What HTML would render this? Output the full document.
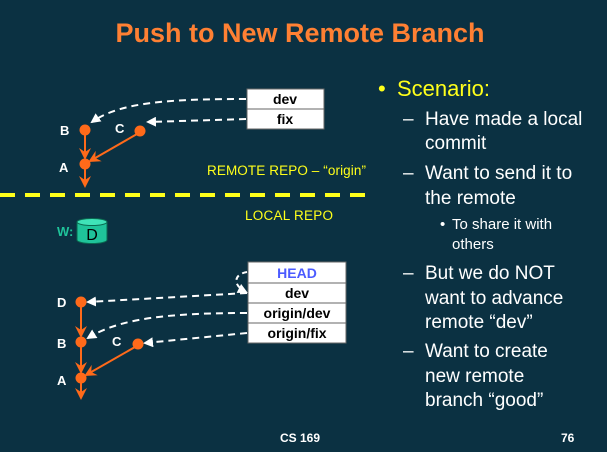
<!DOCTYPE html>
<html><head><meta charset="utf-8"><style>
html,body{margin:0;padding:0;background:#0b3142;}
svg{display:block;font-family:"Liberation Sans",Arial,sans-serif;}
</style></head><body>
<svg width="607" height="452" viewBox="0 0 607 452" xmlns="http://www.w3.org/2000/svg">
<defs>
<marker id="wa" markerWidth="10" markerHeight="10" refX="8" refY="5" orient="auto" markerUnits="userSpaceOnUse"><path d="M0,0 L10,5 L0,10 z" fill="#fff"/></marker>
<marker id="oa" markerWidth="12" markerHeight="12" refX="10" refY="6" orient="auto" markerUnits="userSpaceOnUse"><path d="M0,0 L12,6 L0,12 L4,6 z" fill="#ff6a1a"/></marker>
</defs>
<rect width="607" height="452" fill="#0b3142"/>
<text x="300" y="42" text-anchor="middle" font-size="27" font-weight="bold" fill="#ff8033">Push to New Remote Branch</text>

<!-- top diagram -->
<rect x="247" y="89" width="77" height="20" fill="#fff" stroke="#666"/>
<rect x="247" y="109" width="77" height="20" fill="#fff" stroke="#666"/>
<text x="285" y="104" text-anchor="middle" font-size="14" font-weight="bold" fill="#000">dev</text>
<text x="285" y="124" text-anchor="middle" font-size="14" font-weight="bold" fill="#000">fix</text>
<path d="M246,99 C170,99 120,102 92,122" stroke="#fff" stroke-width="2" stroke-dasharray="7,5" fill="none" marker-end="url(#wa)"/>
<path d="M246,119 L148,122" stroke="#fff" stroke-width="2" stroke-dasharray="7,5" fill="none" marker-end="url(#wa)"/>
<line x1="85" y1="134" x2="85" y2="158" stroke="#ff6a1a" stroke-width="2" marker-end="url(#oa)"/>
<line x1="137" y1="134" x2="90" y2="161" stroke="#ff6a1a" stroke-width="2" marker-end="url(#oa)"/>
<line x1="85" y1="168" x2="85" y2="186" stroke="#ff6a1a" stroke-width="2" marker-end="url(#oa)"/>
<circle cx="85" cy="130" r="5.5" fill="#ff6a1a"/>
<circle cx="140" cy="131" r="5.5" fill="#ff6a1a"/>
<circle cx="85" cy="164" r="5.5" fill="#ff6a1a"/>
<g font-size="13" font-weight="bold" fill="#fff">
<text x="60" y="135">B</text><text x="115" y="133">C</text><text x="59" y="172">A</text>
</g>
<text x="207" y="175" font-size="13.5" fill="#ffff1a" textLength="159">REMOTE REPO – “origin”</text>
<line x1="0" y1="195" x2="370" y2="195" stroke="#ffff1a" stroke-width="4" stroke-dasharray="15,10"/>
<text x="245" y="220" font-size="13.5" fill="#ffff1a" textLength="88">LOCAL REPO</text>
<text x="57" y="236" font-size="13" font-weight="bold" fill="#1fc39a">W:</text>
<path d="M77,222 L77,240 A15,3.5 0 0 0 107,240 L107,222" fill="#1fc39a" stroke="#0a6a50" stroke-width="1"/>
<ellipse cx="92" cy="222" rx="15" ry="3.5" fill="#3fe3b8" stroke="#0a6a50" stroke-width="1"/>
<text x="92" y="240" text-anchor="middle" font-size="16" fill="#000">D</text>

<!-- bottom diagram -->
<rect x="248" y="262" width="98" height="21" fill="#fff" stroke="#666"/>
<rect x="248" y="283" width="98" height="20" fill="#fff" stroke="#666"/>
<rect x="248" y="303" width="98" height="20" fill="#fff" stroke="#666"/>
<rect x="248" y="323" width="98" height="20" fill="#fff" stroke="#666"/>
<text x="297" y="278" text-anchor="middle" font-size="14" font-weight="bold" fill="#4b5bff">HEAD</text>
<text x="297" y="298" text-anchor="middle" font-size="14" font-weight="bold" fill="#000">dev</text>
<text x="297" y="318" text-anchor="middle" font-size="14" font-weight="bold" fill="#000">origin/dev</text>
<text x="297" y="338" text-anchor="middle" font-size="14" font-weight="bold" fill="#000">origin/fix</text>
<path d="M247,272 C234,274 232,285 246,292" stroke="#fff" stroke-width="2" stroke-dasharray="5,4" fill="none" marker-end="url(#wa)"/>
<path d="M247,293 L88,302" stroke="#fff" stroke-width="2" stroke-dasharray="7,5" fill="none" marker-end="url(#wa)"/>
<path d="M247,313 C170,313 120,318 88,338" stroke="#fff" stroke-width="2" stroke-dasharray="7,5" fill="none" marker-end="url(#wa)"/>
<path d="M247,333 L145,343" stroke="#fff" stroke-width="2" stroke-dasharray="7,5" fill="none" marker-end="url(#wa)"/>
<line x1="81" y1="306" x2="81" y2="336" stroke="#ff6a1a" stroke-width="2" marker-end="url(#oa)"/>
<line x1="81" y1="346" x2="81" y2="372" stroke="#ff6a1a" stroke-width="2" marker-end="url(#oa)"/>
<line x1="135" y1="347" x2="86" y2="375" stroke="#ff6a1a" stroke-width="2" marker-end="url(#oa)"/>
<line x1="81" y1="382" x2="81" y2="398" stroke="#ff6a1a" stroke-width="2" marker-end="url(#oa)"/>
<circle cx="81" cy="302" r="5.5" fill="#ff6a1a"/>
<circle cx="81" cy="342" r="5.5" fill="#ff6a1a"/>
<circle cx="138" cy="344" r="5.5" fill="#ff6a1a"/>
<circle cx="81" cy="378" r="5.5" fill="#ff6a1a"/>
<g font-size="13" font-weight="bold" fill="#fff">
<text x="57" y="307">D</text><text x="57" y="348">B</text><text x="112" y="346">C</text><text x="57" y="385">A</text>
</g>

<!-- right text -->
<text x="378" y="96" font-size="22" fill="#ffff1a">•</text>
<text x="397" y="96" font-size="22" fill="#ffff1a">Scenario:</text>
<g font-size="19" fill="#fff">
<text x="403" y="125">–</text><text x="425" y="125">Have made a local</text>
<text x="425" y="149">commit</text>
<text x="403" y="179">–</text><text x="425" y="179">Want to send it to</text>
<text x="425" y="204">the remote</text>
<text x="403" y="279">–</text><text x="425" y="279">But we do NOT</text>
<text x="425" y="304">want to advance</text>
<text x="425" y="328">remote “dev”</text>
<text x="403" y="357">–</text><text x="425" y="357">Want to create</text>
<text x="425" y="382">new remote</text>
<text x="425" y="406">branch “good”</text>
</g>
<g font-size="15" fill="#fff">
<text x="440" y="229">•</text><text x="452" y="229">To share it with</text>
<text x="452" y="249">others</text>
</g>
<text x="280" y="442" font-size="12" font-weight="bold" fill="#fff">CS 169</text>
<text x="561" y="442" font-size="12" font-weight="bold" fill="#fff">76</text>
</svg>
</body></html>
